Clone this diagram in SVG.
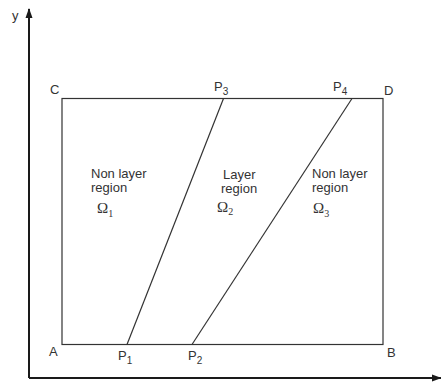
<svg xmlns="http://www.w3.org/2000/svg" width="441" height="392" viewBox="0 0 441 392">
<defs>
<marker id="arr" markerWidth="10" markerHeight="8" refX="9" refY="4" orient="auto" markerUnits="userSpaceOnUse">
<path d="M0,0.5 L10,4 L0,7.5 Z" fill="#1a1a1a"/>
</marker>
<style>
.t{font-family:"Liberation Sans",Arial,sans-serif;font-size:13px;fill:#333}
.s{font-size:10px}
.o{font-family:"Liberation Serif","Times New Roman",serif;font-size:15px;fill:#333}
.ln{stroke:#333;stroke-width:1.2;fill:none}
.ax{stroke:#1a1a1a;stroke-width:2;fill:none}
</style>
</defs>
<rect width="441" height="392" fill="#fff"/>
<g id="axes">
<line class="ax" x1="29" y1="378" x2="29" y2="9" marker-end="url(#arr)"/>
<line class="ax" x1="29" y1="378" x2="441" y2="378" marker-end="url(#arr)"/>
<text class="t" x="12" y="20">y</text>
</g>
<g id="domain">
<rect class="ln" x="62" y="98.5" width="321" height="246"/>
<text class="t" x="50" y="94">C</text>
<text class="t" x="384" y="95">D</text>
<text class="t" x="49" y="356">A</text>
<text class="t" x="387" y="357">B</text>
</g>
<g id="connectors">
<line class="ln" x1="127" y1="344.5" x2="223.5" y2="98.5"/>
<line class="ln" x1="192" y1="344.5" x2="352" y2="98.5"/>
</g>
<g id="points">
<text class="t" x="214" y="91">P<tspan class="s" dy="4">3</tspan></text>
<text class="t" x="333" y="91">P<tspan class="s" dy="4">4</tspan></text>
<text class="t" x="118" y="360">P<tspan class="s" dy="4">1</tspan></text>
<text class="t" x="188" y="360">P<tspan class="s" dy="4">2</tspan></text>
</g>
<g id="region1">
<text class="t" x="91" y="178">Non layer</text>
<text class="t" x="91" y="192">region</text>
<text class="o" x="97" y="213">Ω<tspan class="s" dy="4">1</tspan></text>
</g>
<g id="region2">
<text class="t" x="223" y="179">Layer</text>
<text class="t" x="221" y="193">region</text>
<text class="o" x="217" y="212">Ω<tspan class="s" dy="3">2</tspan></text>
</g>
<g id="region3">
<text class="t" x="312" y="178">Non layer</text>
<text class="t" x="312" y="192">region</text>
<text class="o" x="313" y="213">Ω<tspan class="s" dy="4">3</tspan></text>
</g>
</svg>
